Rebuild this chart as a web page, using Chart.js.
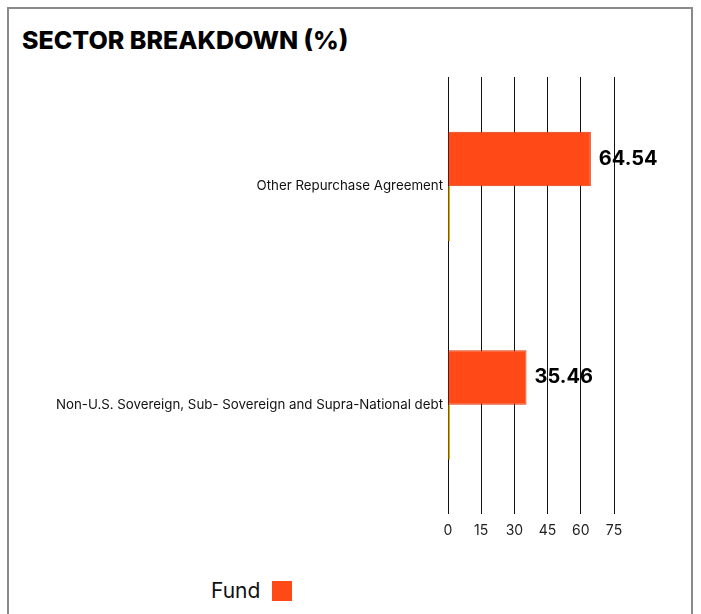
<!DOCTYPE html>
<html>
<head>
<meta charset="utf-8">
<script src="https://cdn.jsdelivr.net/npm/chart.js@4"></script>
<style>
  html, body { margin: 0; padding: 0; background: #fff; width: 701px; height: 614px; overflow: hidden; }
  #frame { position: absolute; left: 7px; top: 7px; width: 686px; height: 700px; border: 2px solid #8a8a8a; box-sizing: border-box; }
  #title { position: absolute; left: 22px; top: 25px; font-family: Inter, sans-serif; font-weight: 800; font-size: 25px; color: #000; letter-spacing: 0px; white-space: nowrap; }
  #wrap { position: absolute; left: 9px; top: 60px; width: 684px; height: 500px; }
  #legend { position: absolute; left: 211px; top: 578px; font-family: Inter, sans-serif; font-size: 21px; color: #111; display: flex; align-items: center; }
  #legend .box { display: inline-block; width: 20px; height: 20px; margin-left: 12px; }
</style>
</head>
<body>
<div id="frame"></div>
<div id="title">SECTOR BREAKDOWN (%)</div>
<div id="wrap"><canvas id="c"></canvas></div>
<div id="legend"><span id="legendText"></span><span class="box" id="legendBox"></span></div>
<script>
const categories = ["Other Repurchase Agreement", "Non-U.S. Sovereign, Sub- Sovereign and Supra-National debt"];
const fundValues = [64.54, 35.46];
const benchmarkValues = [0, 0];
const xTicks = [0, 15, 30, 45, 60, 75];
const fundLabel = "Fund";

const FUND_COLOR = '#FF4A17';
const CANVAS_LEFT = 9;

document.getElementById('legendText').textContent = fundLabel;
document.getElementById('legendBox').style.background = FUND_COLOR;

const valueLabels = {
  id: 'valueLabels',
  afterDatasetsDraw(chart) {
    const ctx = chart.ctx;
    const meta = chart.getDatasetMeta(0);
    ctx.save();
    ctx.font = '700 20px Inter, sans-serif';
    ctx.fillStyle = '#000';
    ctx.textBaseline = 'middle';
    ctx.textAlign = 'left';
    meta.data.forEach((bar, i) => {
      const v = chart.data.datasets[0].data[i];
      ctx.fillText(v.toFixed(2), bar.x + 8, bar.y);
    });
    ctx.restore();
  }
};

new Chart(document.getElementById('c'), {
  type: 'bar',
  data: {
    labels: categories,
    datasets: [
      {
        label: fundLabel,
        data: fundValues,
        backgroundColor: FUND_COLOR,
        borderColor: '#D83A0C',
        borderWidth: 1,
        categoryPercentage: 0.5,
        barPercentage: 1.0
      },
      {
        label: 'Benchmark',
        data: benchmarkValues,
        backgroundColor: '#D9A700',
        borderColor: '#D9A700',
        borderWidth: 0,
        minBarLength: 2,
        categoryPercentage: 0.5,
        barPercentage: 1.0
      }
    ]
  },
  options: {
    indexAxis: 'y',
    responsive: true,
    maintainAspectRatio: false,
    animation: false,
    layout: { padding: { top: 17, right: 79, left: 0, bottom: 0 } },
    plugins: {
      legend: { display: false },
      tooltip: { enabled: false }
    },
    scales: {
      x: {
        min: 0,
        max: 75,
        afterBuildTicks(scale) { scale.ticks = xTicks.map(v => ({ value: v })); },
        afterFit(scale) { scale.height = 46; },
        border: { display: false },
        grid: { color: '#111', lineWidth: 1, drawTicks: false },
        ticks: {
          padding: 8,
          color: '#222',
          font: { family: 'Inter, sans-serif', size: 14 }
        }
      },
      y: {
        afterFit(scale) { scale.width = 448 - CANVAS_LEFT; },
        border: { display: false },
        grid: { display: false, drawTicks: false },
        ticks: {
          padding: 5,
          color: '#111',
          font: { family: 'Inter, sans-serif', size: 13.3, lineHeight: 1.0 }
        }
      }
    }
  },
  plugins: [valueLabels]
});
</script>
</body>
</html>
